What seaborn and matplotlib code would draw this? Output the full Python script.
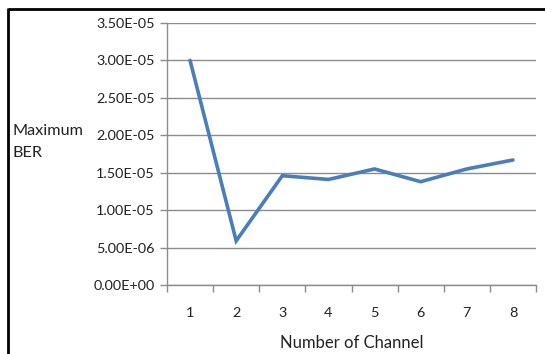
import matplotlib
matplotlib.use("Agg")
import matplotlib.pyplot as plt
from matplotlib.lines import Line2D
from matplotlib.ticker import FuncFormatter, FixedLocator
import seaborn as sns
import pandas as pd

# Maximum bit error rate per channel
channels = [1, 2, 3, 4, 5, 6, 7, 8]
max_ber = [3.0e-5, 5.9e-6, 1.46e-5, 1.41e-5, 1.55e-5, 1.38e-5, 1.55e-5, 1.67e-5]
y_ticks = [0, 5e-6, 1e-5, 1.5e-5, 2e-5, 2.5e-5, 3e-5, 3.5e-5]

sns.set_theme(style="white")
plt.rcParams["font.family"] = ["Lato", "DejaVu Sans"]

df = pd.DataFrame({"channel": channels, "ber": max_ber})

fig = plt.figure(figsize=(5.45, 3.54), dpi=100)
ax = fig.add_axes([167 / 545, 1 - 285 / 354, 369 / 545, 262 / 354])

grid_c = "#8c8c8c"
text_c = "#222222"
sns.lineplot(data=df, x="channel", y="ber", ax=ax, color="#4a7ebb",
             linewidth=2.6, solid_joinstyle="miter")

ax.set_xlim(0.5, 8.5)
ax.set_ylim(0, 3.5e-5)
ax.set_yticks(y_ticks)


def sci(v, _):
    if v == 0:
        return "0.00E+00"
    return f"{v:.2E}"


ax.yaxis.set_major_formatter(FuncFormatter(sci))
ax.set_xticks(channels)
ax.set_xticklabels([str(c) for c in channels])
ax.xaxis.set_minor_locator(FixedLocator([c + 0.5 for c in [0] + channels]))

ax.grid(axis="y", color=grid_c, linewidth=1.0)
ax.set_axisbelow(True)
for side in ("top", "right"):
    ax.spines[side].set_visible(False)
for side in ("left", "bottom"):
    ax.spines[side].set_color(grid_c)
    ax.spines[side].set_linewidth(1.0)

ax.tick_params(axis="y", which="major", left=True, length=5, width=1.0,
               color=grid_c, pad=4, labelsize=10.4, labelcolor=text_c)
ax.tick_params(axis="x", which="major", bottom=False, length=0, pad=16,
               labelsize=10.4, labelcolor=text_c)
ax.tick_params(axis="x", which="minor", bottom=True, length=5, width=1.0,
               color=grid_c, direction="out")

ax.set_xlabel("Number of Channel", fontsize=12, color=text_c, labelpad=11)
ax.set_ylabel("")
fig.text(12 / 545, 1 - 142 / 354, "Maximum\nBER", fontsize=11.7, color=text_c,
         ha="left", va="center", linespacing=1.7)

# frame lines along the top and left edges
fig.add_artist(Line2D([7.5 / 545, 1.0], [1 - 8.5 / 354, 1 - 8.5 / 354],
                      transform=fig.transFigure, color="black", linewidth=2.0,
                      solid_capstyle="butt"))
fig.add_artist(Line2D([8 / 545, 8 / 545], [0, 1 - 7.5 / 354],
                      transform=fig.transFigure, color="black", linewidth=2.0,
                      solid_capstyle="butt"))

fig.savefig("out.png", dpi=100)
